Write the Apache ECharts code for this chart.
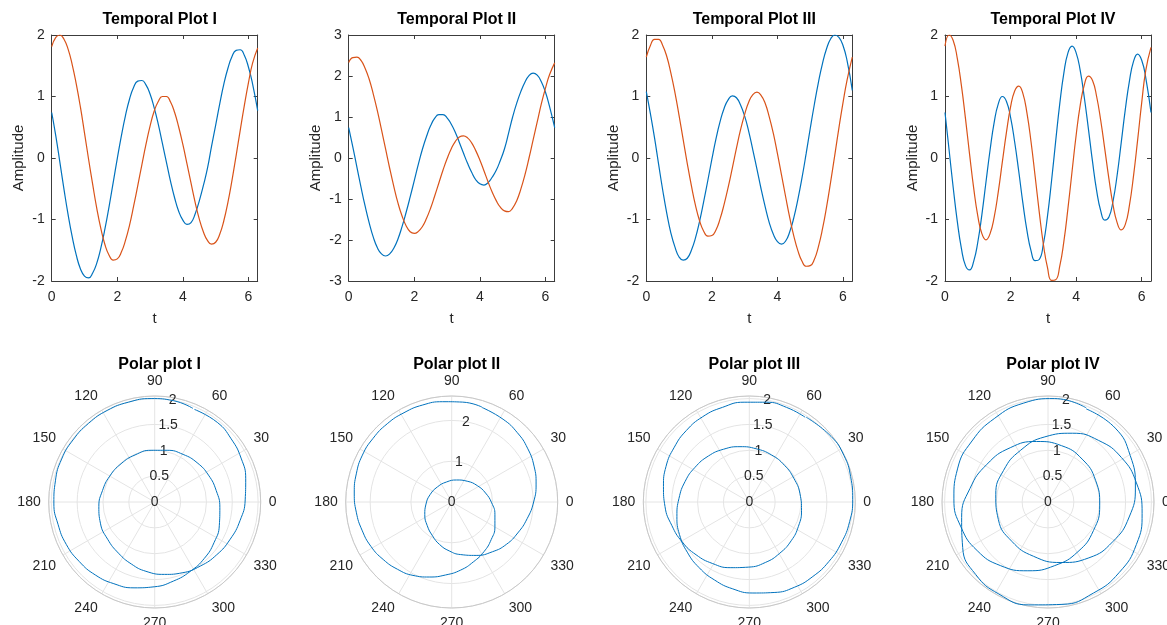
<!DOCTYPE html>
<html>
<head>
<meta charset="utf-8">
<script src="https://cdn.jsdelivr.net/npm/echarts@6/dist/echarts.min.js"></script>
<style>
    html, body { margin: 0; padding: 0; background: #fff; }
    #chart { width: 1167px; height: 625px; }
</style>
</head>
<body>
<div id="chart"></div>
<script>
// sample times, 0 .. 2*pi
const tValues = [0, 0.125, 0.25, 0.375, 0.5, 0.625, 0.75, 0.875,
    1, 1.125, 1.25, 1.375, 1.5, 1.625, 1.75, 1.875,
    2, 2.125, 2.25, 2.375, 2.5, 2.625, 2.75, 2.875,
    3, 3.125, 3.25, 3.375, 3.5, 3.625, 3.75, 3.875,
    4, 4.125, 4.25, 4.375, 4.5, 4.625, 4.75, 4.875,
    5, 5.125, 5.25, 5.375, 5.5, 5.625, 5.75, 5.875,
    6, 6.125, 6.2832];

// blue = first signal, orange = second signal
const blueI = [0.74, 0.36, -0.07, -0.51, -0.92, -1.28, -1.58, -1.80,
    -1.92, -1.95, -1.87, -1.71, -1.46, -1.15, -0.79, -0.40,
    -0.01, 0.36, 0.69, 0.96, 1.15, 1.25, 1.26, 1.19,
    1.04, 0.82, 0.55, 0.24, -0.07, -0.38, -0.65, -0.87,
    -1.01, -1.08, -1.05, -0.91, -0.70, -0.45, -0.17, 0.19,
    0.53, 0.88, 1.20, 1.46, 1.65, 1.75, 1.76, 1.67,
    1.48, 1.21, 0.77];
const orangeI = [1.81, 1.96, 2.00, 1.93, 1.77, 1.52, 1.20, 0.83,
    0.41, -0.02, -0.43, -0.82, -1.15, -1.41, -1.58, -1.66,
    -1.64, -1.53, -1.34, -1.09, -0.78, -0.45, -0.11, 0.22,
    0.52, 0.76, 0.92, 1.00, 1.00, 0.91, 0.74, 0.50,
    0.22, -0.09, -0.41, -0.72, -0.99, -1.20, -1.34, -1.40,
    -1.37, -1.24, -1.02, -0.72, -0.36, 0.04, 0.45, 0.85,
    1.22, 1.54, 1.79];

const blueII = [0.74, 0.27, -0.22, -0.71, -1.17, -1.58, -1.93, -2.19,
    -2.34, -2.39, -2.34, -2.20, -1.98, -1.68, -1.33, -0.95,
    -0.55, -0.15, 0.22, 0.53, 0.79, 0.97, 1.06, 1.06,
    0.98, 0.83, 0.63, 0.38, 0.12, -0.13, -0.35, -0.53,
    -0.63, -0.66, -0.60, -0.47, -0.30, -0.06, 0.22, 0.60,
    1.00, 1.34, 1.62, 1.85, 2.01, 2.07, 2.02, 1.86,
    1.61, 1.26, 0.74];
const orangeII = [2.33, 2.45, 2.46, 2.38, 2.19, 1.92, 1.56, 1.15,
    0.69, 0.22, -0.25, -0.69, -1.09, -1.41, -1.65, -1.80,
    -1.84, -1.79, -1.67, -1.47, -1.22, -0.92, -0.61, -0.30,
    -0.02, 0.22, 0.40, 0.51, 0.54, 0.49, 0.37, 0.18,
    -0.05, -0.31, -0.58, -0.83, -1.04, -1.20, -1.29, -1.31,
    -1.22, -1.04, -0.76, -0.41, 0.00, 0.44, 0.88, 1.32,
    1.70, 2.03, 2.32];

const blueIII = [1.08, 0.72, 0.33, -0.10, -0.52, -0.90, -1.22, -1.45,
    -1.61, -1.66, -1.63, -1.50, -1.30, -1.03, -0.71, -0.37,
    -0.02, 0.31, 0.59, 0.81, 0.95, 1.01, 0.98, 0.86,
    0.68, 0.43, 0.13, -0.18, -0.50, -0.79, -1.05, -1.24,
    -1.36, -1.40, -1.35, -1.20, -0.97, -0.67, -0.32, 0.07,
    0.48, 0.87, 1.23, 1.54, 1.78, 1.94, 2.00, 1.96,
    1.83, 1.58, 1.10];
const orangeIII = [1.64, 1.83, 1.93, 1.93, 1.83, 1.65, 1.38, 1.06,
    0.69, 0.30, -0.09, -0.45, -0.77, -1.02, -1.19, -1.27,
    -1.26, -1.17, -0.99, -0.75, -0.47, -0.16, 0.16, 0.46,
    0.71, 0.91, 1.03, 1.07, 1.02, 0.89, 0.67, 0.40,
    0.07, -0.28, -0.63, -0.97, -1.27, -1.51, -1.68, -1.76,
    -1.75, -1.65, -1.44, -1.15, -0.79, -0.38, 0.05, 0.49,
    0.90, 1.27, 1.64];

const blueIV = [0.74, 0.13, -0.48, -1.03, -1.47, -1.75, -1.82, -1.68,
    -1.37, -0.92, -0.39, 0.13, 0.58, 0.88, 1.00, 0.92,
    0.66, 0.26, -0.22, -0.73, -1.18, -1.51, -1.67, -1.65,
    -1.40, -0.95, -0.37, 0.27, 0.88, 1.38, 1.71, 1.82,
    1.71, 1.42, 0.98, 0.47, -0.06, -0.53, -0.86, -1.01,
    -0.96, -0.70, -0.28, 0.25, 0.79, 1.25, 1.57, 1.69,
    1.59, 1.30, 0.74];
const orangeIV = [1.82, 2.00, 1.91, 1.62, 1.18, 0.64, 0.06, -0.49,
    -0.94, -1.23, -1.33, -1.23, -0.96, -0.55, -0.06, 0.42,
    0.83, 1.09, 1.17, 1.05, 0.73, 0.26, -0.30, -0.88,
    -1.40, -1.78, -1.99, -1.98, -1.76, -1.36, -0.82, -0.22,
    0.37, 0.86, 1.19, 1.33, 1.26, 1.00, 0.61, 0.14,
    -0.34, -0.76, -1.05, -1.17, -1.08, -0.77, -0.29, 0.29,
    0.90, 1.43, 1.80];

const panelNames = ['I', 'II', 'III', 'IV'];
const yLimits = [[-2, 2], [-3, 3], [-2, 2], [-2, 2]];
const rLimits = [2.05, 2.6, 2.05, 2.05];
const rSteps = [0.5, 1, 0.5, 0.5];

const blueSeries = [blueI, blueII, blueIII, blueIV];
const orangeSeries = [orangeI, orangeII, orangeIII, orangeIV];

const BLUE = '#0072BD';
const ORANGE = '#D95319';
const TEXT = '#262626';
const FONT = '"Liberation Sans", Arial, sans-serif';

const plotLeft = [51.7, 348.7, 646.3, 945];
const plotWidth = 206;
const plotTop = 35;
const plotHeight = 246;
const polarCy = 502;
const polarRadius = 106;

const chart = echarts.init(document.getElementById('chart'));

let titles = [], grids = [], xAxes = [], yAxes = [], polars = [], angleAxes = [], radiusAxes = [], series = [];

panelNames.forEach(function (name, i) {
    const cx = plotLeft[i] + plotWidth / 2;

    titles.push({
        text: 'Temporal Plot ' + name, left: cx, top: 7, textAlign: 'center',
        textStyle: {fontSize: 16, fontWeight: 'bold', color: '#000', fontFamily: FONT}
    });
    titles.push({
        text: 'Polar plot ' + name, left: cx, top: 352, textAlign: 'center',
        textStyle: {fontSize: 16, fontWeight: 'bold', color: '#000', fontFamily: FONT}
    });

    grids.push({left: plotLeft[i], top: plotTop, width: plotWidth, height: plotHeight});

    const lineStyle = {color: '#3c3c3c', width: 1};
    const labelStyle = {color: TEXT, fontSize: 14, fontFamily: FONT};

    // bottom + top x axes, left + right y axes (box look)
    xAxes.push({
        gridIndex: i, type: 'value', min: 0, max: 6.2832, interval: 2, position: 'bottom',
        axisLine: {onZero: false, lineStyle: lineStyle},
        axisTick: {inside: true, length: 4, lineStyle: lineStyle},
        axisLabel: Object.assign({margin: 9, formatter: function (v) { return v % 2 === 0 ? String(v) : ''; }}, labelStyle),
        splitLine: {show: false},
        name: 't', nameLocation: 'middle', nameGap: 30,
        nameTextStyle: {color: TEXT, fontSize: 15, fontFamily: FONT}
    });
    xAxes.push({
        gridIndex: i, type: 'value', min: 0, max: 6.2832, interval: 2, position: 'top',
        axisLine: {onZero: false, lineStyle: lineStyle},
        axisTick: {inside: true, length: 4, lineStyle: lineStyle},
        axisLabel: {show: false}, splitLine: {show: false}
    });
    yAxes.push({
        gridIndex: i, type: 'value', min: yLimits[i][0], max: yLimits[i][1], interval: 1, position: 'left',
        axisLine: {onZero: false, lineStyle: lineStyle},
        axisTick: {inside: true, length: 4, lineStyle: lineStyle},
        axisLabel: Object.assign({margin: 7}, labelStyle),
        splitLine: {show: false},
        name: 'Amplitude', nameLocation: 'middle', nameGap: 25,
        nameTextStyle: {color: TEXT, fontSize: 15, fontFamily: FONT}
    });
    yAxes.push({
        gridIndex: i, type: 'value', min: yLimits[i][0], max: yLimits[i][1], interval: 1, position: 'right',
        axisLine: {onZero: false, lineStyle: lineStyle},
        axisTick: {inside: true, length: 4, lineStyle: lineStyle},
        axisLabel: {show: false}, splitLine: {show: false}
    });

    const blue = blueSeries[i], orange = orangeSeries[i];
    series.push({
        type: 'line', xAxisIndex: 2 * i, yAxisIndex: 2 * i, smooth: true, showSymbol: false,
        lineStyle: {color: BLUE, width: 1.2}, itemStyle: {color: BLUE},
        data: tValues.map(function (t, j) { return [t, blue[j]]; })
    });
    series.push({
        type: 'line', xAxisIndex: 2 * i, yAxisIndex: 2 * i, smooth: true, showSymbol: false,
        lineStyle: {color: ORANGE, width: 1.2}, itemStyle: {color: ORANGE},
        data: tValues.map(function (t, j) { return [t, orange[j]]; })
    });

    // polar frame: one polar for the grid, one more only for the r labels along the 80 deg ray
    polars.push({center: [cx, polarCy], radius: polarRadius});
    polars.push({center: [cx, polarCy], radius: polarRadius});

    angleAxes.push({
        polarIndex: 2 * i, type: 'value', min: 0, max: 360, interval: 30, startAngle: 0, clockwise: false,
        axisLine: {lineStyle: {color: '#c8c8c8', width: 1}},
        axisTick: {show: false},
        axisLabel: Object.assign({margin: 8, formatter: function (v) { return v === 360 ? '' : String(v); }}, labelStyle),
        splitLine: {show: true, lineStyle: {color: '#e4e4e4', width: 1}}
    });
    radiusAxes.push({
        polarIndex: 2 * i, type: 'value', min: 0, max: rLimits[i], interval: rSteps[i],
        axisLine: {show: false}, axisTick: {show: false}, axisLabel: {show: false},
        splitLine: {show: true, lineStyle: {color: '#e4e4e4', width: 1}}
    });
    angleAxes.push({
        polarIndex: 2 * i + 1, type: 'value', min: 0, max: 360, startAngle: 80, clockwise: false, show: false
    });
    const step = rSteps[i];
    radiusAxes.push({
        polarIndex: 2 * i + 1, type: 'value', min: 0, max: rLimits[i], interval: step,
        axisLine: {show: false}, axisTick: {show: false}, splitLine: {show: false},
        axisLabel: Object.assign({
            margin: 0, align: 'center', verticalAlign: 'middle',
            formatter: function (v) {
                const k = v / step;
                return Math.abs(k - Math.round(k)) < 1e-6 ? String(v) : '';
            }
        }, labelStyle)
    });
});

// polar curves: (blue, orange) as (x, y) on a hidden square grid laid over each polar frame
// (polar line series here came out as straight chords, the cartesian one smooths fine)
panelNames.forEach(function (name, i) {
    const cx = plotLeft[i] + plotWidth / 2;
    const lim = rLimits[i];
    grids.push({left: cx - polarRadius, top: polarCy - polarRadius, width: 2 * polarRadius, height: 2 * polarRadius});
    xAxes.push({gridIndex: 4 + i, type: 'value', min: -lim, max: lim, show: false});
    yAxes.push({gridIndex: 4 + i, type: 'value', min: -lim, max: lim, show: false});
    const blue = blueSeries[i], orange = orangeSeries[i];
    series.push({
        type: 'line', xAxisIndex: 8 + i, yAxisIndex: 8 + i, smooth: true, showSymbol: false, clip: false,
        lineStyle: {color: BLUE, width: 1}, itemStyle: {color: BLUE},
        data: blue.map(function (x, j) { return [x, orange[j]]; })
    });
});

chart.setOption({
    animation: false,
    textStyle: {fontFamily: FONT},
    title: titles,
    grid: grids,
    xAxis: xAxes,
    yAxis: yAxes,
    polar: polars,
    angleAxis: angleAxes,
    radiusAxis: radiusAxes,
    series: series
});
</script>
</body>
</html>
